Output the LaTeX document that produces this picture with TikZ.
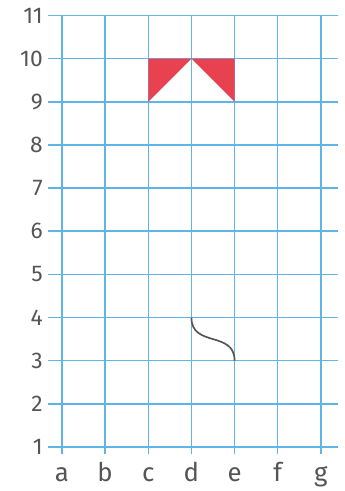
\documentclass[tikz,border=0pt]{standalone}
\usepackage{fontspec}
\setmainfont{Fira Sans}
\definecolor{gridblue}{RGB}{95,182,230}
\definecolor{shapered}{RGB}{232,66,80}
\definecolor{labgray}{RGB}{85,85,85}
\begin{document}
\begin{tikzpicture}[
  gridline/.style={draw=gridblue,line width=1pt},
  rowlab/.style={anchor=east,text=labgray,font=\fontsize{15}{16}\selectfont,inner sep=0pt},
  collab/.style={anchor=base,text=labgray,font=\fontsize{17}{19}\selectfont,inner sep=0pt},
  redshape/.style={fill=shapered,draw=none},
  curveline/.style={draw=labgray,line width=1.1pt}
]
\useasboundingbox (-1.437,-1.02) rectangle (6.559,10.36);
% horizontal grid lines and row labels
\foreach \r in {1,...,11}{
  \draw[gridline] (-0.32,\r-1) -- (6.4,\r-1);
  \node[rowlab] (row\r) at (-0.44,\r-1) {\r};
}
% vertical grid lines and column labels
\foreach \c [count=\i from 0] in {a,b,c,d,e,f,g}{
  \draw[gridline] (\i,10) -- (\i,-0.17);
  \node[collab] (col\c) at (\i,-0.8) {\c};
}
% red triangles
\coordinate (c10) at (2,9);
\coordinate (d10) at (3,9);
\coordinate (c9) at (2,8);
\coordinate (e10) at (4,9);
\coordinate (e9) at (4,8);
\fill[redshape] (c10) -- (d10) -- (c9) -- cycle;
\fill[redshape] (d10) -- (e10) -- (e9) -- cycle;
% curve
\coordinate (d4) at (3,3);
\coordinate (e3) at (4,2);
\draw[curveline] (d4) .. controls (3,2.3) and (4,2.7) .. (e3);
\end{tikzpicture}
\end{document}
